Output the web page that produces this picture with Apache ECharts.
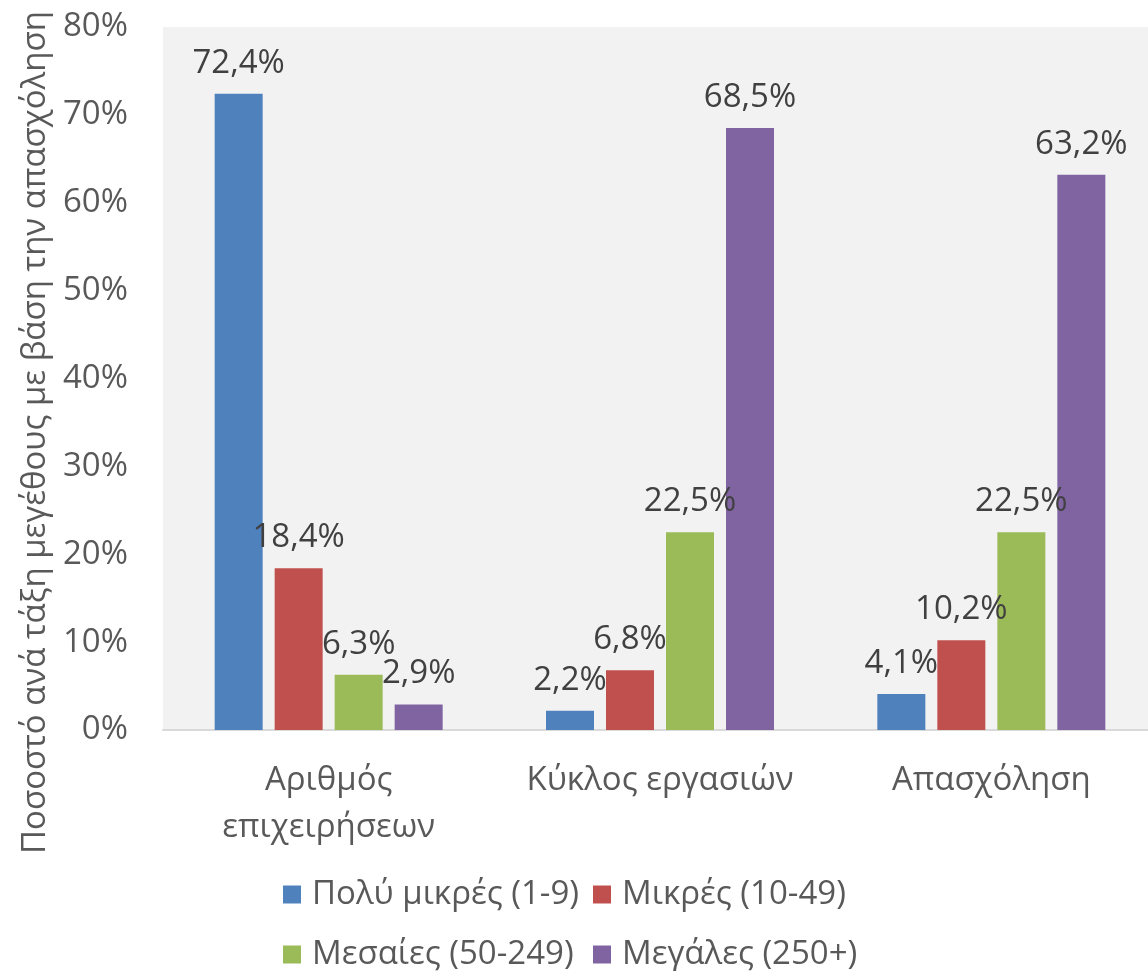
<!DOCTYPE html>
<html>
<head>
<meta charset="utf-8">
<script src="https://cdn.jsdelivr.net/npm/echarts@6/dist/echarts.min.js"></script>
<style>
  html, body { margin: 0; padding: 0; background: #fff; }
  #chart { width: 1148px; height: 971px; }
</style>
</head>
<body>
<div id="chart"></div>
<script>
  var categories = ['Αριθμός\nεπιχειρήσεων', 'Κύκλος εργασιών', 'Απασχόληση']
  var seriesNames = ['Πολύ μικρές (1-9)', 'Μικρές (10-49)', 'Μεσαίες (50-249)', 'Μεγάλες (250+)']
  var veryS = [72.4, 2.2, 4.1]
  var small = [18.4, 6.8, 10.2]
  var medium = [6.3, 22.5, 22.5]
  var large = [2.9, 68.5, 63.2]
  var colors = ['#4f81bd', '#c0504d', '#9bbb59', '#8064a2']

  var font = '"Open Sans", "Noto Sans", sans-serif'
  var fs = 33
  var allData = [veryS, small, medium, large]

  var series = allData.map(function (d, i) {
    return {
      name: seriesNames[i],
      type: 'bar',
      barWidth: 48,
      barGap: '25%',
      itemStyle: { color: colors[i] },
      label: {
        show: true,
        position: 'top',
        distance: 14,
        color: '#404040',
        fontFamily: font,
        fontSize: fs,
        formatter: function (p) {
          return p.value.toFixed(1).replace('.', ',') + '%'
        }
      },
      data: d
    }
  })

  // one legend per item so the two rows line up in columns
  var legendPos = [[283, 878], [593, 878], [283, 938], [593, 938]]
  var legends = seriesNames.map(function (n, i) {
    return {
      data: [n],
      left: legendPos[i][0],
      top: legendPos[i][1],
      icon: 'rect',
      itemWidth: 18,
      itemHeight: 18,
      padding: 0,
      selectedMode: false,
      textStyle: {
        color: '#595959',
        fontFamily: font,
        fontSize: fs,
        padding: [0, 0, 0, 6]
      }
    }
  })

  var chart = echarts.init(document.getElementById('chart'))
  chart.setOption({
    animation: false,
    backgroundColor: '#fff',
    legend: legends,
    grid: {
      left: 163,
      top: 27,
      width: 994,
      bottom: 241,
      show: true,
      backgroundColor: '#f2f2f2',
      borderWidth: 0,
      containLabel: false,
      outerBoundsMode: 'none'
    },
    xAxis: {
      type: 'category',
      data: categories,
      axisTick: { show: false },
      axisLine: { show: true, lineStyle: { color: '#d9d9d9', width: 2 } },
      axisLabel: {
        interval: 0,
        color: '#595959',
        fontFamily: font,
        fontSize: fs,
        lineHeight: 47,
        margin: 27
      }
    },
    yAxis: {
      type: 'value',
      min: 0,
      max: 80,
      interval: 10,
      name: 'Ποσοστό ανά τάξη μεγέθους με βάση την απασχόληση',
      nameLocation: 'middle',
      nameRotate: 90,
      nameGap: 108,
      nameTextStyle: {
        color: '#595959',
        fontFamily: font,
        fontSize: fs,
        padding: [0, 108, 0, 0]
      },
      axisLine: { show: false },
      axisTick: { show: false },
      splitLine: { show: false },
      axisLabel: {
        color: '#595959',
        fontFamily: font,
        fontSize: fs,
        margin: 35,
        formatter: '{value}%'
      }
    },
    series: series
  })
</script>
</body>
</html>
